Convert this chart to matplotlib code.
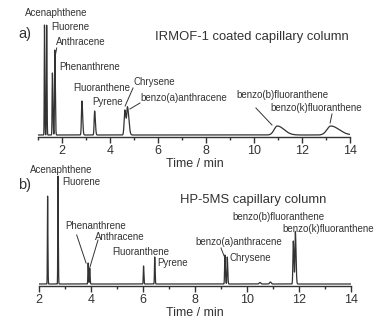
import numpy as np
import matplotlib.pyplot as plt
from matplotlib.ticker import MultipleLocator

plt.rcParams['font.family'] = ['Liberation Sans', 'DejaVu Sans']

# peak tables: retention time (min), height, left/right width (min)
names_a = ['Acenaphthene', 'Fluorene', 'Phenanthrene', 'Anthracene', 'Fluoranthene',
           'Pyrene', 'Chrysene', 'benzo(a)anthracene', 'benzo(b)fluoranthene',
           'benzo(k)fluoranthene']
rt_a = [1.27, 1.36, 1.60, 1.70, 2.83, 3.36, 4.62, 4.73, 10.97, 13.20]
h_a = [110, 110, 62, 85, 34, 24, 25, 27, 9, 9]
wl_a = [0.010, 0.010, 0.012, 0.012, 0.020, 0.020, 0.030, 0.030, 0.13, 0.16]
wr_a = [0.014, 0.014, 0.020, 0.020, 0.030, 0.030, 0.045, 0.055, 0.28, 0.34]

names_b = ['Acenaphthene', 'Fluorene', 'Phenanthrene', 'Anthracene', 'Fluoranthene',
           'Pyrene', 'benzo(a)anthracene', 'Chrysene', 'benzo(b)fluoranthene',
           'benzo(k)fluoranthene', '', '']
rt_b = [2.33, 2.73, 3.89, 3.95, 6.02, 6.45, 9.15, 9.24, 11.78, 11.86, 10.5, 10.9]
h_b = [88, 108, 21, 16, 18, 27, 29, 27, 43, 52, 1.5, 2.0]
wl_b = [0.008, 0.008, 0.010, 0.010, 0.010, 0.010, 0.012, 0.012, 0.015, 0.015, 0.03, 0.03]
wr_b = [0.012, 0.012, 0.014, 0.014, 0.014, 0.014, 0.018, 0.018, 0.025, 0.025, 0.03, 0.03]


def trace(t, rt, h, wl, wr, base):
    y = np.full_like(t, base)
    for r, hh, a, b in zip(rt, h, wl, wr):
        s = np.where(t < r, a, b)
        y += hh * np.exp(-0.5 * ((t - r) / s) ** 2)
    return y


W, H = 387, 323
fig = plt.figure(figsize=(W / 100, H / 100), dpi=100)
col = '#333333'


def make_axes(left, right, bottom, top, xlim, ylim):
    ax = fig.add_axes([left / W, 1 - bottom / H, (right - left) / W, (bottom - top) / H])
    ax.set_xlim(*xlim)
    ax.set_ylim(*ylim)
    for s in ['left', 'right', 'top']:
        ax.spines[s].set_visible(False)
    ax.spines['bottom'].set_color(col)
    ax.spines['bottom'].set_linewidth(1.0)
    ax.set_yticks([])
    ax.xaxis.set_major_locator(MultipleLocator(2))
    ax.xaxis.set_minor_locator(MultipleLocator(1))
    ax.tick_params(axis='x', which='major', direction='out', length=4, width=1,
                   color=col, labelcolor=col, labelsize=9, pad=1.5)
    ax.tick_params(axis='x', which='minor', direction='out', length=2.5, width=1, color=col)
    ax.patch.set_alpha(0)
    return ax


# panel a
ax1 = make_axes(38, 350, 137, 10, (1, 14), (0, 127))
t1 = np.linspace(1.0, 14, 8000)
ax1.plot(t1, trace(t1, rt_a, h_a, wl_a, wr_a, 2.0), color=col, lw=0.9)

fs = 7.0
lab_a = {
    'Acenaphthene': (0.46, 124), 'Fluorene': (1.54, 110), 'Anthracene': (1.75, 95),
    'Phenanthrene': (1.875, 70), 'Fluoranthene': (2.46, 49), 'Pyrene': (3.25, 35),
    'Chrysene': (4.96, 55), 'benzo(a)anthracene': (5.25, 39),
    'benzo(b)fluoranthene': (9.25, 42), 'benzo(k)fluoranthene': (10.67, 29),
}
for k, (x, y) in lab_a.items():
    ax1.text(x, y, k, fontsize=fs, color=col, ha='left', va='center', clip_on=False)
lead_a = [((1.78, 89), (1.71, 80)), ((4.96, 49), (4.63, 31)), ((5.25, 34), (4.83, 28)),
          ((10.08, 29), (10.75, 12)), ((13.25, 23), (13.17, 14))]
for p, q in lead_a:
    ax1.plot([p[0], q[0]], [p[1], q[1]], color=col, lw=0.7, clip_on=False)
ax1.text(5.875, 100, 'IRMOF-1 coated capillary column', fontsize=9.4, color=col,
         ha='left', va='center')

# panel b
ax2 = make_axes(39, 351, 286, 170, (2, 14), (0, 116))
t2 = np.linspace(2.0, 14, 9000)
ax2.plot(t2, trace(t2, rt_b, h_b, wl_b, wr_b, 2.0), color=col, lw=0.9)

lab_b = {
    'Acenaphthene': (1.65, 116), 'Fluorene': (2.885, 104), 'Phenanthrene': (3.0, 60),
    'Anthracene': (4.15, 49), 'Fluoranthene': (4.81, 34), 'Pyrene': (6.54, 23),
    'benzo(a)anthracene': (8.0, 44), 'Chrysene': (9.31, 28),
    'benzo(b)fluoranthene': (9.42, 69), 'benzo(k)fluoranthene': (11.35, 57),
}
for k, (x, y) in lab_b.items():
    ax2.text(x, y, k, fontsize=fs, color=col, ha='left', va='center', clip_on=False)
lead_b = [((3.45, 51), (3.81, 23)), ((4.27, 46), (3.96, 19)), ((9.0, 38), (9.12, 30))]
for p, q in lead_b:
    ax2.plot([p[0], q[0]], [p[1], q[1]], color=col, lw=0.7, clip_on=False)
ax2.text(7.42, 86, 'HP-5MS capillary column', fontsize=9.4, color=col,
         ha='left', va='center')

fig.text(18 / W, 1 - 34 / H, 'a)', fontsize=10.5, color=col, ha='left', va='center')
fig.text(18 / W, 1 - 185 / H, 'b)', fontsize=10.5, color=col, ha='left', va='center')
fig.text(195 / W, 1 - 164 / H, 'Time / min', fontsize=9, color=col, ha='center', va='center')
fig.text(195 / W, 1 - 313 / H, 'Time / min', fontsize=9, color=col, ha='center', va='center')

fig.savefig('out.png', dpi=100)
